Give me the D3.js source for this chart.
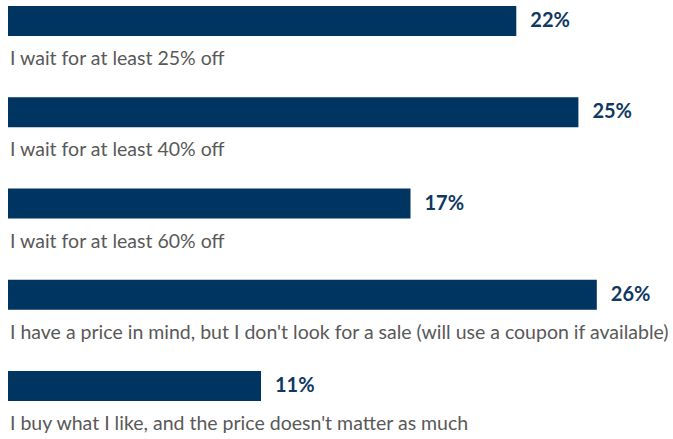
<!DOCTYPE html>
<html>
<head>
<meta charset="utf-8">
<script src="https://cdn.jsdelivr.net/npm/d3@7"></script>
<style>
    body { margin: 0; background: #fff; }
    .cat { fill: #595959; font-family: Lato, sans-serif; font-size: 19.5px; }
    .val { fill: #0f3862; font-family: Lato, sans-serif; font-size: 20px; font-weight: 700; }
</style>
</head>
<body>
<script>
const categories = [
    'I wait for at least 25% off',
    'I wait for at least 40% off',
    'I wait for at least 60% off',
    "I have a price in mind, but I don't look for a sale (will use a coupon if available)",
    "I buy what I like, and the price doesn't matter as much"
]
// bar lengths
const shares = [22.1, 24.8, 17.5, 25.6, 11.0]
// printed labels
const valueLabels = ['22%', '25%', '17%', '26%', '11%']

const width = 673
const height = 439

const svg = d3.select('body')
    .append('svg')
    .attr('width', width)
    .attr('height', height)

const x = d3.scaleLinear()
    .domain([0, 26])
    .range([8, 606])

const y = d3.scaleBand()
    .domain(categories)
    .range([6, 462.25])

const barH = 30

const rows = svg.selectAll('.row')
    .data(categories)
    .enter()
    .append('g')
    .attr('class', 'row')

rows.append('rect')
    .attr('x', x(0))
    .attr('y', d => y(d))
    .attr('width', (d, i) => x(shares[i]) - x(0))
    .attr('height', barH)
    .attr('fill', '#003562')

rows.append('text')
    .attr('class', 'val')
    .attr('x', (d, i) => x(shares[i]) + 14)
    .attr('y', d => y(d) + 21)
    .text((d, i) => valueLabels[i])

const cat = rows.append('text')
    .attr('class', 'cat')
    .attr('x', 10)
    .attr('y', d => y(d) + 59)
    .text(d => d)

// keep the longest label inside the frame
cat.each(function () {
    const len = this.getComputedTextLength()
    if (len > width - 12) {
        d3.select(this).attr('textLength', width - 12).attr('lengthAdjust', 'spacingAndGlyphs')
    }
})
</script>
</body>
</html>
